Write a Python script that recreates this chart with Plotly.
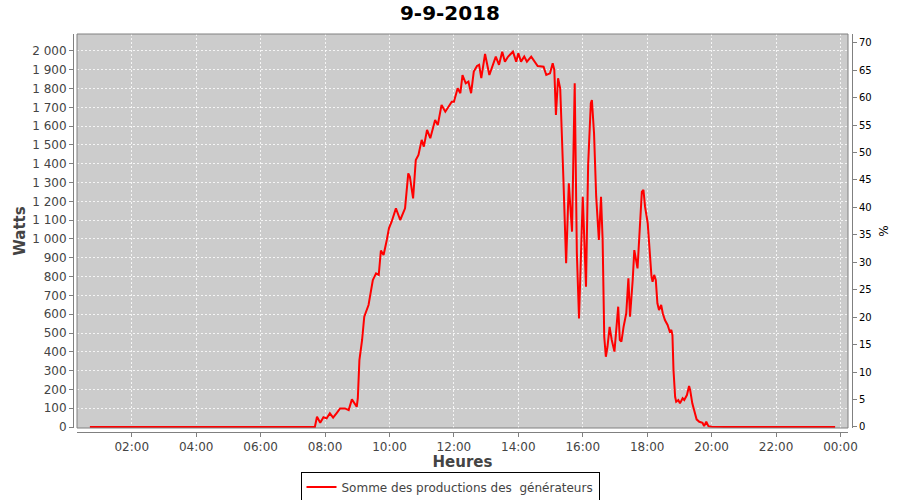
import plotly.graph_objects as go

DAY = "2018-09-09"
times = ["00:42","01:30","02:30","03:30","04:30","05:30","06:30","07:00","07:41",
 "07:45","07:51","07:57","08:03","08:09","08:15","08:22","08:28","08:37","08:44","08:50","08:59",
 "09:01","09:04","09:09","09:13","09:21","09:29","09:35","09:40","09:44","09:49","09:55","09:59",
 "10:04","10:12","10:20","10:29","10:35","10:38","10:44","10:49","10:54",
 "11:00","11:04","11:10","11:16","11:25","11:30","11:37","11:44","11:56",
 "12:00","12:07","12:12","12:16","12:22","12:27","12:32","12:37","12:43","12:47","12:51","12:58",
 "13:06","13:14","13:18","13:24","13:30","13:35","13:41","13:50","13:56",
 "14:00","14:05","14:11","14:16","14:24","14:36","14:47","14:52","14:59",
 "15:04","15:07","15:10","15:14","15:18","15:24","15:29","15:34","15:40","15:45","15:49","15:53",
 "16:00","16:06","16:10","16:15","16:17","16:21","16:25","16:30","16:34","16:37","16:40","16:43","16:46","16:50","16:54","16:59",
 "17:02","17:06","17:09","17:12","17:16","17:21","17:25","17:28","17:33","17:36","17:42","17:45","17:50","17:53","17:56",
 "18:01","18:05","18:08","18:10","18:13","18:16","18:19","18:22","18:26","18:29","18:33","18:38","18:42","18:45","18:47","18:49","18:52","18:54","18:58",
 "19:01","19:06","19:09","19:14","19:18","19:20","19:24","19:28","19:32","19:37","19:43","19:46","19:50","19:54",
 "20:00","20:30","21:00","22:00","23:00","23:50"]
watts = [0,0,0,0,0,0,0,0,0,
 55,23,52,46,73,50,76,99,99,90,147,108,
 152,356,463,587,649,782,817,809,938,915,995,1057,
 1092,1163,1101,1163,1349,1331,1216,1420,1447,
 1527,1491,1580,1536,1633,1606,1713,1677,1730,
 1730,1801,1775,1872,1828,1837,1775,1890,1920,1926,1855,1984,
 1872,1935,1970,1926,1996,1943,1970,1996,1943,
 1988,1943,1970,1943,1970,1920,1916,1872,1881,
 1935,1899,1660,1855,1800,1314,871,1296,1039,1828,924,578,
 1225,746,1394,1722,1739,1562,1225,995,1225,995,480,374,427,533,463,401,
 498,640,463,454,533,605,791,587,782,941,844,977,1250,1261,1172,
 1083,906,800,773,809,782,658,622,649,605,569,543,507,516,489,303,161,135,144,
 126,153,144,170,218,197,126,81,41,28,23,5,28,5,
 2,0,0,0,0,0]

series_name = "Somme des productions des\u00a0 générateurs"
title_text = "9-9-2018"

x = [f"{DAY} {t}" for t in times]

fig = go.Figure()
fig.add_trace(go.Scatter(x=x, y=watts, mode="lines", name=series_name,
                         line=dict(color="#FF0000", width=2), yaxis="y"))
fig.add_trace(go.Scatter(x=[x[0]], y=[None], mode="lines", showlegend=False,
                         hoverinfo="skip", yaxis="y2"))

FONT = "DejaVu Sans"
W, H = 900, 500
L, R, T, B = 73, 48, 34, 68
pw, ph = W - L - R, H - T - B
off = 4

fig.update_layout(
    width=W, height=H,
    margin=dict(l=L, r=R, t=T, b=B, pad=0, autoexpand=False),
    paper_bgcolor="white", plot_bgcolor="#CCCCCC",
    separators=", ",
    font=dict(family=FONT, size=12, color="#444444"),
    title=dict(text=f"<b>{title_text}</b>", x=0.5, xref="container", xanchor="center",
               y=1 - 13 / H, yref="container", yanchor="middle",
               font=dict(family=FONT, size=20, color="black")),
    showlegend=True,
    legend=dict(orientation="h", xref="container", yref="container", x=0.5, xanchor="center",
                y=(H - 487) / H, yanchor="middle", bordercolor="black", borderwidth=1,
                bgcolor="white", font=dict(family=FONT, size=12, color="#444444"),
                itemwidth=30, tracegroupgap=0),
    xaxis=dict(type="date", domain=[off / pw, 1 - off / pw], anchor="free", position=0,
               range=[f"{DAY} 00:18", "2018-09-10 00:14"],
               tick0=f"{DAY} 00:00", dtick=7200000, tickformat="%H:%M",
               showgrid=True, gridcolor="rgba(255,255,255,0.8)", griddash="2px,2px", gridwidth=1,
               showline=True, linecolor="#808080", linewidth=1,
               ticks="outside", ticklen=4, tickcolor="#808080",
               tickfont=dict(family=FONT, size=12, color="#444444"),
               title=dict(text="<b>Heures</b>", standoff=8,
                          font=dict(family=FONT, size=15, color="#444444")),
               zeroline=False, automargin=False),
    yaxis=dict(domain=[off / ph, 1], anchor="free", position=0,
               range=[-5, 2090], tick0=0, dtick=100, tickformat=",d",
               showgrid=True, gridcolor="rgba(255,255,255,0.8)", griddash="2px,2px", gridwidth=1,
               showline=True, linecolor="#808080", linewidth=1,
               ticks="outside", ticklen=4, tickcolor="#808080",
               tickfont=dict(family=FONT, size=12, color="#444444"),
               title=dict(text="<b>Watts</b>", standoff=1,
                          font=dict(family=FONT, size=15, color="#444444")),
               zeroline=False, automargin=False),
    yaxis2=dict(overlaying="y", side="right", anchor="free", position=1,
                range=[-0.2, 71.6], tick0=0, dtick=5,
                showgrid=False, showline=True, linecolor="#808080", linewidth=1,
                ticks="outside", ticklen=4, tickcolor="#808080",
                tickfont=dict(family=FONT, size=10, color="black"),
                title=dict(text="%", standoff=8, font=dict(family=FONT, size=12, color="black")),
                zeroline=False, automargin=False),
)

fig.add_shape(type="rect", xref="x domain", yref="y domain", x0=0, x1=1, y0=0, y1=1,
              line=dict(color="#808080", width=1), fillcolor="rgba(0,0,0,0)", layer="above")

fig.write_html("out.html", config={"displayModeBar": False},
               post_script="document.body.style.margin='0';document.body.style.overflow='hidden';")
